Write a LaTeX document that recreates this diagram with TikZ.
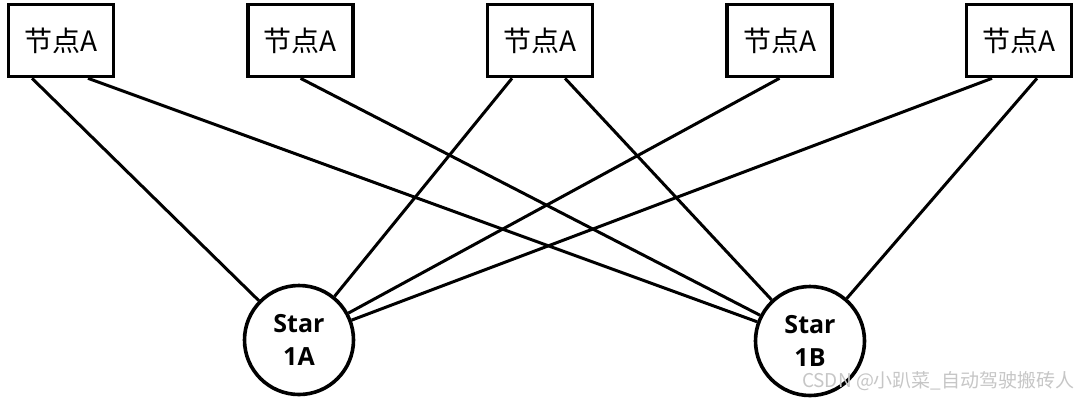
\documentclass[tikz,border=0pt]{standalone}
\usepackage{fontspec}
\setmainfont{Open Sans}
\newfontfamily\cjk{Noto Sans CJK SC}
\usetikzlibrary{positioning}

\begin{document}
\begin{tikzpicture}[node distance=119.75pt,
        box/.style={draw, rectangle, line width=1.8pt, minimum width=52.5pt, minimum height=36pt, inner sep=0pt, font=\cjk\fontsize{14}{16}\selectfont},
        star/.style={draw, circle, line width=1.8pt, minimum size=54.5pt, inner sep=0pt, align=center, font=\bfseries\fontsize{12.5}{16.5}\selectfont},
        link/.style={line width=1.5pt}]
        \useasboundingbox (0,0) rectangle (540pt,-199pt);

        \node (b1) [box] at (30.5pt,-20.25pt) {节点A};
        \node (b2) [box, right of=b1] {节点A};
        \node (b3) [box, right of=b2] {节点A};
        \node (b4) [box, right of=b3] {节点A};
        \node (b5) [box, right of=b4] {节点A};

        \node (s1a) [star] at (149.5pt,-170pt) {Star\\1A};
        \node (s1b) [star] at (405pt,-170.5pt) {Star\\1B};

        \draw[link] ([xshift=-14.5pt]b1.south) -- (s1a);
        \draw[link] ([xshift=13.5pt]b1.south) -- (s1b);
        \draw[link] (b2.south) -- (s1b);
        \draw[link] ([xshift=-14pt]b3.south) -- (s1a);
        \draw[link] ([xshift=12.5pt]b3.south) -- (s1b);
        \draw[link] (b4.south) -- (s1a);
        \draw[link] ([xshift=-13.5pt]b5.south) -- (s1a);
        \draw[link] ([xshift=9pt]b5.south) -- (s1b);

        \node (mark) [anchor=east, text=gray!45, inner sep=0pt, font=\cjk\fontsize{9.5}{11}\selectfont] at (537.5pt,-190.5pt) {CSDN @小趴菜\_自动驾驶搬砖人};
    \end{tikzpicture}
\end{document}
